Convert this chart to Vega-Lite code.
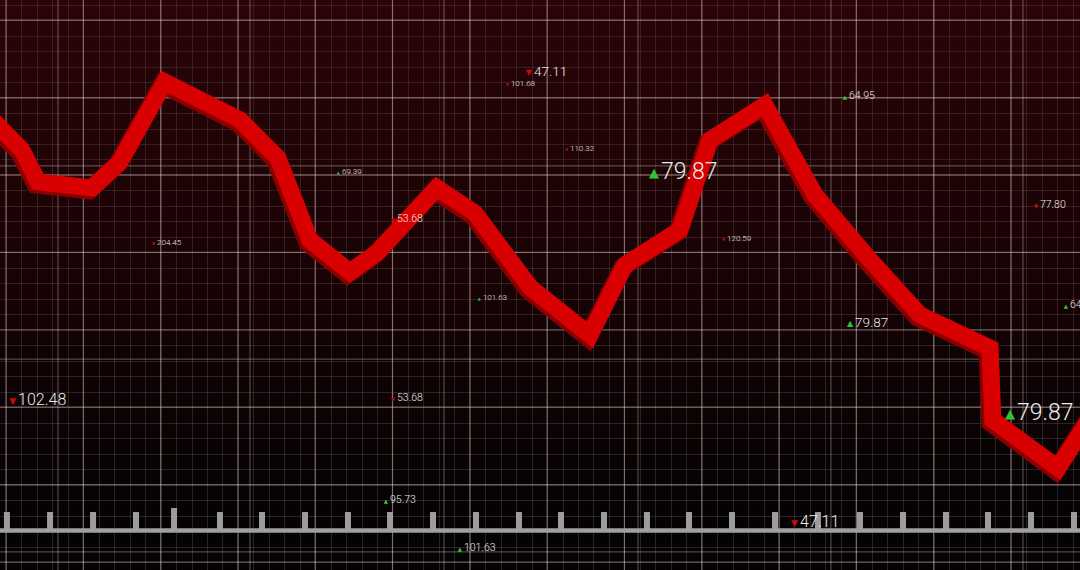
{
  "$schema": "https://vega.github.io/schema/vega-lite/v6.json",
  "width": 1080,
  "height": 570,
  "autosize": {"type": "none"},
  "padding": 0,
  "background": "#050203",
  "config": {"view": {"stroke": null}},
  "datasets": {
    "bg": [{"x1": -0.388, "x2": 69.47, "y1": -0.517, "y2": 36.3}],
    "line": [
      {"x": -1.5, "y": 29.2}, {"x": 1.03, "y": 26.61}, {"x": 2.07, "y": 24.55}, {"x": 5.56, "y": 24.16},
      {"x": 7.37, "y": 25.84}, {"x": 10.28, "y": 31.01}, {"x": 15.14, "y": 28.55}, {"x": 17.59, "y": 26.1},
      {"x": 19.66, "y": 20.8}, {"x": 22.25, "y": 18.73}, {"x": 24.06, "y": 20.03}, {"x": 27.88, "y": 24.16},
      {"x": 30.34, "y": 22.53}, {"x": 33.89, "y": 17.76}, {"x": 37.78, "y": 14.66}, {"x": 40.04, "y": 19.19},
      {"x": 43.6, "y": 21.45}, {"x": 45.54, "y": 27.26}, {"x": 49.09, "y": 29.52}, {"x": 50.71, "y": 26.61},
      {"x": 52.33, "y": 23.71}, {"x": 55.89, "y": 19.51}, {"x": 59.12, "y": 15.96}, {"x": 63.65, "y": 13.82},
      {"x": 63.84, "y": 9.17}, {"x": 68.05, "y": 6.07}, {"x": 70.6, "y": 10.0}
    ],
    "majorX": [
      {"x": 0}, {"x": 5}, {"x": 10}, {"x": 15}, {"x": 20}, {"x": 25}, {"x": 30},
      {"x": 35}, {"x": 40}, {"x": 45}, {"x": 50}, {"x": 55}, {"x": 60}, {"x": 65}
    ],
    "altX": [{"x": 3.36}, {"x": 15.78}, {"x": 28.33}, {"x": 40.88}, {"x": 53.36}, {"x": 65.78}],
    "majorY": [
      {"y": 0}, {"y": 5}, {"y": 10}, {"y": 15}, {"y": 20}, {"y": 25}, {"y": 30}, {"y": 35}
    ],
    "altY": [{"y": 0.65}, {"y": 13.11}, {"y": 25.58}],
    "bar": [{"y": 2.03}],
    "ticks": [
      {"x": 0.06, "lo": 2.03, "hi": 3.23}, {"x": 2.85, "lo": 2.03, "hi": 3.23}, {"x": 5.63, "lo": 2.03, "hi": 3.23},
      {"x": 8.41, "lo": 2.03, "hi": 3.23}, {"x": 10.87, "lo": 2.03, "hi": 3.49}, {"x": 13.84, "lo": 2.03, "hi": 3.23},
      {"x": 16.56, "lo": 2.03, "hi": 3.23}, {"x": 19.34, "lo": 2.03, "hi": 3.23}, {"x": 22.12, "lo": 2.03, "hi": 3.23},
      {"x": 24.84, "lo": 2.03, "hi": 3.23}, {"x": 27.62, "lo": 2.03, "hi": 3.23}, {"x": 30.4, "lo": 2.03, "hi": 3.23},
      {"x": 33.18, "lo": 2.03, "hi": 3.23}, {"x": 35.9, "lo": 2.03, "hi": 3.23}, {"x": 38.68, "lo": 2.03, "hi": 3.23},
      {"x": 41.46, "lo": 2.03, "hi": 3.23}, {"x": 44.18, "lo": 2.03, "hi": 3.23}, {"x": 46.96, "lo": 2.03, "hi": 3.23},
      {"x": 49.74, "lo": 2.03, "hi": 3.23}, {"x": 52.52, "lo": 2.03, "hi": 3.23}, {"x": 55.24, "lo": 2.03, "hi": 3.23},
      {"x": 58.02, "lo": 2.03, "hi": 3.23}, {"x": 60.8, "lo": 2.03, "hi": 3.23}, {"x": 63.52, "lo": 2.03, "hi": 3.23},
      {"x": 66.3, "lo": 2.03, "hi": 3.23}, {"x": 69.08, "lo": 2.03, "hi": 3.23}
    ],
    "labels": [
      {"x": 34.15, "y": 31.65, "label": "47.11", "dir": "down", "tier": 3},
      {"x": 32.66, "y": 30.88, "label": "101.68", "dir": "down", "tier": 1},
      {"x": 36.48, "y": 26.68, "label": "110.32", "dir": "down", "tier": 1},
      {"x": 42.37, "y": 25.19, "label": "79.87", "dir": "up", "tier": 5},
      {"x": 54.53, "y": 30.1, "label": "64.95", "dir": "up", "tier": 2},
      {"x": 21.73, "y": 25.19, "label": "69.39", "dir": "up", "tier": 1},
      {"x": 9.77, "y": 20.61, "label": "204.45", "dir": "down", "tier": 1},
      {"x": 25.29, "y": 22.16, "label": "53.68", "dir": "down", "tier": 2},
      {"x": 46.64, "y": 20.87, "label": "120.59", "dir": "down", "tier": 1},
      {"x": 30.85, "y": 17.05, "label": "101.63", "dir": "up", "tier": 1},
      {"x": 66.88, "y": 23.06, "label": "77.80", "dir": "down", "tier": 2},
      {"x": 68.82, "y": 16.6, "label": "64.95", "dir": "up", "tier": 2},
      {"x": 54.92, "y": 15.44, "label": "79.87", "dir": "up", "tier": 3},
      {"x": 0.78, "y": 10.47, "label": "102.48", "dir": "down", "tier": 4},
      {"x": 25.29, "y": 10.59, "label": "53.68", "dir": "down", "tier": 2},
      {"x": 65.39, "y": 9.63, "label": "79.87", "dir": "up", "tier": 5},
      {"x": 24.84, "y": 4.01, "label": "95.73", "dir": "up", "tier": 2},
      {"x": 51.36, "y": 2.58, "label": "47.11", "dir": "down", "tier": 4},
      {"x": 29.62, "y": 0.9, "label": "101.63", "dir": "up", "tier": 2}
    ]
  },
  "layer": [
    {
      "data": {"name": "bg"},
      "mark": {"type": "rect",
        "color": {"gradient": "linear", "x1": 0, "y1": 0, "x2": 0, "y2": 1,
          "stops": [
            {"offset": 0, "color": "rgba(128,8,17,0.3)"},
            {"offset": 0.5, "color": "rgba(100,5,8,0.2)"},
            {"offset": 0.75, "color": "rgba(60,4,6,0.1)"},
            {"offset": 1, "color": "rgba(0,0,0,0)"}
          ]}},
      "encoding": {
        "x": {"field": "x1", "type": "quantitative",
          "scale": {"domain": [-0.388, 69.47], "nice": false, "zero": false},
          "axis": {"grid": true, "gridColor": "#ffffff", "gridOpacity": 0.14, "gridWidth": 1, "tickCount": 70,
            "domain": false, "ticks": false, "labels": false, "title": null, "minExtent": 0, "maxExtent": 0, "offset": 0}},
        "x2": {"field": "x2"},
        "y": {"field": "y1", "type": "quantitative",
          "scale": {"domain": [-0.517, 36.3], "nice": false, "zero": false},
          "axis": {"grid": true, "gridColor": "#ffffff", "gridOpacity": 0.14, "gridWidth": 1, "tickCount": 37,
            "domain": false, "ticks": false, "labels": false, "title": null, "minExtent": 0, "maxExtent": 0, "offset": 0}},
        "y2": {"field": "y2"}
      }
    },
    {
      "data": {"name": "majorX"},
      "mark": {"type": "rule", "color": "#f0dede", "strokeOpacity": 0.42, "strokeWidth": 1.2},
      "encoding": {"x": {"field": "x", "type": "quantitative"}}
    },
    {
      "data": {"name": "altX"},
      "mark": {"type": "rule", "color": "#f0dede", "strokeOpacity": 0.32, "strokeWidth": 1.2},
      "encoding": {"x": {"field": "x", "type": "quantitative"}}
    },
    {
      "data": {"name": "majorY"},
      "mark": {"type": "rule", "color": "#f0dede", "strokeOpacity": 0.42, "strokeWidth": 1.2},
      "encoding": {"y": {"field": "y", "type": "quantitative"}}
    },
    {
      "data": {"name": "altY"},
      "mark": {"type": "rule", "color": "#f0dede", "strokeOpacity": 0.32, "strokeWidth": 1.2},
      "encoding": {"y": {"field": "y", "type": "quantitative"}}
    },
    {
      "data": {"name": "ticks"},
      "mark": {"type": "rule", "color": "#9c9c9c", "strokeWidth": 6},
      "encoding": {
        "x": {"field": "x", "type": "quantitative"},
        "y": {"field": "lo", "type": "quantitative"},
        "y2": {"field": "hi"}
      }
    },
    {
      "data": {"name": "bar"},
      "mark": {"type": "rule", "color": "#a0a0a0", "strokeWidth": 4.5},
      "encoding": {"y": {"field": "y", "type": "quantitative"}}
    },
    {
      "data": {"name": "line"},
      "mark": {"type": "line", "color": "#8a0000", "strokeWidth": 18, "strokeJoin": "miter", "strokeMiterLimit": 10, "xOffset": -2.5, "yOffset": 2.5, "clip": true},
      "encoding": {
        "x": {"field": "x", "type": "quantitative"},
        "y": {"field": "y", "type": "quantitative"}
      }
    },
    {
      "data": {"name": "line"},
      "mark": {"type": "line", "color": "#d80000", "strokeWidth": 17, "strokeJoin": "miter", "strokeMiterLimit": 10, "clip": true},
      "encoding": {
        "x": {"field": "x", "type": "quantitative"},
        "y": {"field": "y", "type": "quantitative"}
      }
    },
    {
      "data": {"name": "labels"},
      "mark": {"type": "text", "align": "right", "baseline": "middle", "dx": -2, "dy": 1, "font": "DejaVu Sans",
        "fontSize": {"expr": "datum.tier == 5 ? 13 : datum.tier == 4 ? 9 : datum.tier == 3 ? 8 : datum.tier == 2 ? 5.5 : 4"}},
      "encoding": {
        "x": {"field": "x", "type": "quantitative"},
        "y": {"field": "y", "type": "quantitative"},
        "text": {"condition": {"test": "datum.dir === 'up'", "value": "▲"}, "value": "▼"},
        "color": {"field": "dir", "type": "nominal", "scale": {"domain": ["up", "down"], "range": ["#33c233", "#c80a0a"]}, "legend": null}
      }
    },
    {
      "data": {"name": "labels"},
      "mark": {"type": "text", "align": "left", "baseline": "middle", "font": "Roboto", "fontWeight": 300, "color": "#ececec",
        "fontSize": {"expr": "datum.tier == 5 ? 23 : datum.tier == 4 ? 16 : datum.tier == 3 ? 13.5 : datum.tier == 2 ? 10.5 : 8"}},
      "encoding": {
        "x": {"field": "x", "type": "quantitative"},
        "y": {"field": "y", "type": "quantitative"},
        "text": {"field": "label", "type": "nominal"}
      }
    }
  ]
}
